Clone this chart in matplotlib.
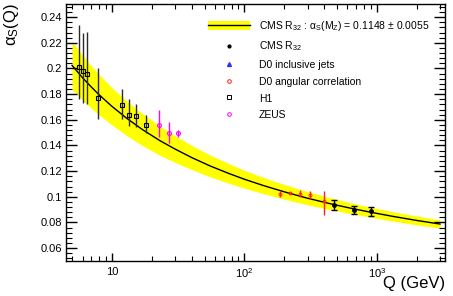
import matplotlib
matplotlib.use('Agg')
import matplotlib.pyplot as plt
from matplotlib.lines import Line2D
from matplotlib.patches import Patch
from matplotlib.ticker import FixedLocator, FixedFormatter, LogLocator, MultipleLocator, NullFormatter

plt.rcParams['font.family'] = ['Liberation Sans', 'DejaVu Sans']
plt.rcParams['mathtext.fontset'] = 'custom'
plt.rcParams['mathtext.rm'] = 'Liberation Sans'
plt.rcParams['mathtext.it'] = 'Liberation Sans'
plt.rcParams['mathtext.bf'] = 'Liberation Sans:bold'

# running alpha_s curve and band
q_curve = [5, 6, 7, 8, 10, 13, 17, 23, 30, 40, 55, 75, 100, 140, 200, 300, 450, 650, 900, 1300, 2000, 3000]
a_curve = [0.2024, 0.1928, 0.1855, 0.1795, 0.1705, 0.1610, 0.1524, 0.1438, 0.1372, 0.1306, 0.1241,
           0.1185, 0.1137, 0.1087, 0.1039, 0.0989, 0.0945, 0.0909, 0.0880, 0.0849, 0.0816, 0.0788]
band_lo = [0.1836, 0.1753, 0.1690, 0.1637, 0.1560, 0.1475, 0.1399, 0.1324, 0.1268, 0.1212, 0.1156,
           0.1108, 0.1067, 0.1024, 0.0982, 0.0937, 0.0899, 0.0867, 0.0841, 0.0812, 0.0781, 0.0756]
band_hi = [0.2212, 0.2103, 0.2020, 0.1953, 0.1850, 0.1745, 0.1649, 0.1552, 0.1476, 0.1400, 0.1326,
           0.1262, 0.1207, 0.1150, 0.1096, 0.1041, 0.0991, 0.0951, 0.0919, 0.0886, 0.0851, 0.0820]

# CMS R32
q_cms = [479, 670, 901]
a_cms = [0.0938, 0.0899, 0.0886]
e_cms = [0.0041, 0.0031, 0.0034]

# D0 angular correlation
q_d0 = [187, 220, 262, 312, 398]
a_d0 = [0.1020, 0.1030, 0.1024, 0.1014, 0.0966]
up_d0 = [0.0022, 0.0007, 0.0026, 0.0028, 0.0076]
dn_d0 = [0.0022, 0.0008, 0.0026, 0.0029, 0.0106]

# H1
q_h1 = [5.6, 6.0, 6.5, 7.9, 11.9, 13.4, 15.2, 18.1]
a_h1 = [0.2009, 0.1977, 0.1960, 0.1769, 0.1712, 0.1641, 0.1628, 0.1561]
up_h1 = [0.0331, 0.0303, 0.0328, 0.0231, 0.0128, 0.0118, 0.0099, 0.0075]
dn_h1 = [0.0243, 0.0247, 0.0233, 0.0159, 0.0104, 0.0086, 0.0083, 0.0063]

# ZEUS
q_zeus = [22.6, 26.8, 31.4]
a_zeus = [0.1563, 0.1498, 0.1495]
up_zeus = [0.0117, 0.0082, 0.0029]
dn_zeus = [0.0096, 0.0078, 0.0028]

fig = plt.figure(figsize=(4.53, 2.96), dpi=100)
ax = fig.add_axes([66 / 453, 1 - 261 / 296, 379.5 / 453, 256.7 / 296])

ax.fill_between(q_curve, band_lo, band_hi, color='#ffff00', lw=0, zorder=1)
ax.plot(q_curve, a_curve, color='black', lw=1.0, zorder=2)

ax.errorbar(q_h1, a_h1, yerr=[dn_h1, up_h1], fmt='s', ms=3.3, mfc='none', mec='black', mew=0.8,
            ecolor='#2a2a2a', elinewidth=1.0, capsize=0, zorder=3)
ax.errorbar(q_zeus, a_zeus, yerr=[dn_zeus, up_zeus], fmt='o', ms=2.8, mfc='none', mec='#ff00ff', mew=0.8,
            ecolor='#ff00ff', elinewidth=1.0, capsize=0, zorder=3)
ax.errorbar(q_d0, a_d0, yerr=[dn_d0, up_d0], fmt='o', ms=2.2, mfc='none', mec='#ff2020', mew=0.6,
            ecolor='#ff2020', elinewidth=1.0, capsize=0, zorder=3)
ax.errorbar(q_cms, a_cms, yerr=e_cms, fmt='o', ms=2.5, color='black',
            elinewidth=1.0, capsize=2, capthick=1.0, zorder=4)

ax.set_xscale('log')
ax.set_xlim(4.5, 3300)
ax.set_ylim(0.05, 0.25)

ax.xaxis.set_major_locator(FixedLocator([10, 100, 1000]))
ax.xaxis.set_major_formatter(FixedFormatter(['10', '$10^{2}$', '$10^{3}$']))
ax.xaxis.set_minor_locator(LogLocator(base=10, subs=range(2, 10)))
ax.xaxis.set_minor_formatter(NullFormatter())
ax.yaxis.set_major_locator(FixedLocator([0.06, 0.08, 0.1, 0.12, 0.14, 0.16, 0.18, 0.2, 0.22, 0.24]))
ax.yaxis.set_major_formatter(FixedFormatter(['0.06', '0.08', '0.1', '0.12', '0.14', '0.16', '0.18', '0.2', '0.22', '0.24']))
ax.yaxis.set_minor_locator(MultipleLocator(0.004))

ax.tick_params(which='both', direction='in', top=True, right=True, labelsize=8, colors='black')
ax.tick_params(axis='y', which='major', length=8, width=1.0, pad=3)
ax.tick_params(axis='y', which='minor', length=4.5, width=0.8)
ax.tick_params(axis='x', which='major', length=6, width=1.0, pad=4)
ax.tick_params(axis='x', which='minor', length=3.5, width=0.8)
for s in ax.spines.values():
    s.set_linewidth(1.0)

ax.text(1.0, -0.06, 'Q (GeV)', transform=ax.transAxes, ha='right', va='top', fontsize=12)
fig.text(0.004, 0.99, r'$\alpha_{S}$(Q)', rotation=90, ha='left', va='top', fontsize=12)

handles = [
    (Patch(facecolor='#ffff00', edgecolor='none'), Line2D([], [], color='black', lw=1.0)),
    Line2D([], [], ls='none', marker='o', ms=2.0, color='black'),
    Line2D([], [], ls='none', marker='^', ms=2.8, color='#3030ff'),
    Line2D([], [], ls='none', marker='o', ms=2.6, mfc='none', mec='#ff2020', mew=0.7),
    Line2D([], [], ls='none', marker='s', ms=2.6, mfc='none', mec='black', mew=0.7),
    Line2D([], [], ls='none', marker='o', ms=2.6, mfc='none', mec='#ff00ff', mew=0.7),
]
labels = [r'CMS R$_{32}$ : $\alpha_{S}$(M$_{Z}$) = 0.1148 $\pm$ 0.0055', r'CMS R$_{32}$',
          'D0 inclusive jets', 'D0 angular correlation', 'H1', 'ZEUS']
ax.legend(handles, labels, loc='upper left', bbox_to_anchor=(0.374, 0.942), frameon=False,
          fontsize=7.5, handlelength=4.0, handleheight=1.0, handletextpad=0.87, labelspacing=0.62,
          borderaxespad=0, borderpad=0)

fig.savefig('out.png', dpi=100)
